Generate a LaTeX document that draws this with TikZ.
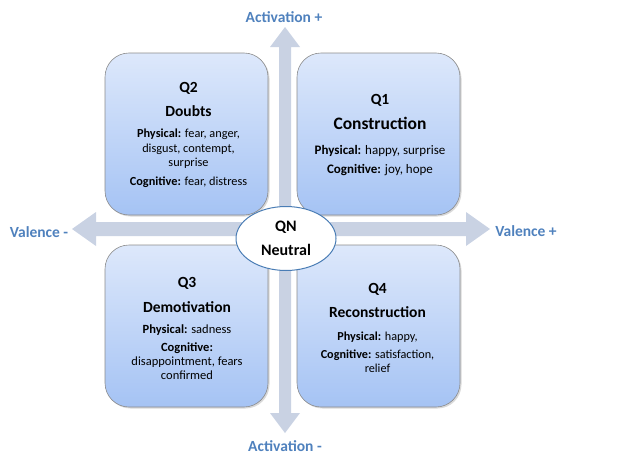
\documentclass[tikz,border=0pt]{standalone}
\usepackage{fontspec}
\setmainfont{Carlito}
\usetikzlibrary{shadows,shapes.geometric}
\definecolor{lblue}{HTML}{4F81BD}
\definecolor{axisc}{HTML}{C9D2E3}
\definecolor{boxtop}{HTML}{DDE8FB}
\definecolor{boxbot}{HTML}{A5C3F4}
\definecolor{boxline}{HTML}{8C8C8C}
\definecolor{ellline}{HTML}{4A7DB5}
\begin{document}
\begin{tikzpicture}[x=1pt,y=-1pt,
  quad/.style={draw=boxline, line width=0.6pt, rounded corners=24pt,
    top color=boxtop, bottom color=boxbot,
    minimum width=163pt, minimum height=162pt, inner sep=0pt,
    drop shadow={opacity=0.3, shadow xshift=1.5pt, shadow yshift=-1.5pt}},
  quadtext/.style={align=center, inner sep=0pt, text=black},
  axislabel/.style={text=lblue, font=\fontsize{15.5}{17}\selectfont\bfseries},
  axis/.style={fill=axisc, draw=none}]
\useasboundingbox (0,0) rectangle (618,455);
% axes
\fill[axis] (285,27) -- (300,47) -- (291,47) -- (291,413) -- (300,413) -- (285,433)
  -- (270,413) -- (279,413) -- (279,47) -- (270,47) -- cycle;
\fill[axis] (72,229) -- (96,212) -- (96,222) -- (466,222) -- (466,212) -- (490,229)
  -- (466,246) -- (466,236) -- (96,236) -- (96,246) -- cycle;
% quadrants
\node[quad] (q2) at (186.5,134) {};
\node[quad] (q1) at (378.5,134) {};
\node[quad] (q3) at (186.5,326) {};
\node[quad] (q4) at (378.5,326) {};
\node[quadtext, font=\fontsize{12.3}{14.5}\selectfont] (q2t) at (188.5,135) {%
  {\fontsize{15.5}{17}\selectfont\bfseries Q2}\\[10pt]
  {\fontsize{15.5}{17}\selectfont\bfseries Doubts}\\[6.5pt]
  \textbf{Physical:} fear, anger,\\
  disgust, contempt,\\
  surprise\\[4.5pt]
  \textbf{Cognitive:} fear, distress};
\node[quadtext, font=\fontsize{13}{16}\selectfont] (q1t) at (380,135.5) {%
  {\fontsize{15.5}{17}\selectfont\bfseries Q1}\\[9pt]
  {\fontsize{17.5}{19}\selectfont\bfseries Construction}\\[9pt]
  \textbf{Physical:} happy, surprise\\[3pt]
  \textbf{Cognitive:} joy, hope};
\node[quadtext, font=\fontsize{12.5}{14}\selectfont] (q3t) at (187,328.5) {%
  {\fontsize{15.5}{17}\selectfont\bfseries Q3}\\[11pt]
  {\fontsize{15.5}{17}\selectfont\bfseries Demotivation}\\[7pt]
  \textbf{Physical:} sadness\\[4pt]
  \textbf{Cognitive:}\\
  disappointment, fears\\
  confirmed};
\node[quadtext, font=\fontsize{12.2}{14.5}\selectfont] (q4t) at (377.5,328) {%
  {\fontsize{15.5}{17}\selectfont\bfseries Q4}\\[9.5pt]
  {\fontsize{15.5}{17}\selectfont\bfseries Reconstruction}\\[8.5pt]
  \textbf{Physical:} happy,\\[3.5pt]
  \textbf{Cognitive:} satisfaction,\\
  relief};
% neutral
\node[ellipse, draw=ellline, line width=1pt, fill=white, minimum width=100pt,
  minimum height=64pt, inner sep=0pt, align=center,
  font=\fontsize{16}{24}\selectfont\bfseries] (qn) at (286,238.5) {QN\\Neutral};
% labels
\node[axislabel] (actp) at (284,17) {Activation +};
\node[axislabel] (actm) at (285,446) {Activation -};
\node[axislabel] (valm) at (39,232) {Valence -};
\node[axislabel] (valp) at (526,231) {Valence +};
\end{tikzpicture}
\end{document}
